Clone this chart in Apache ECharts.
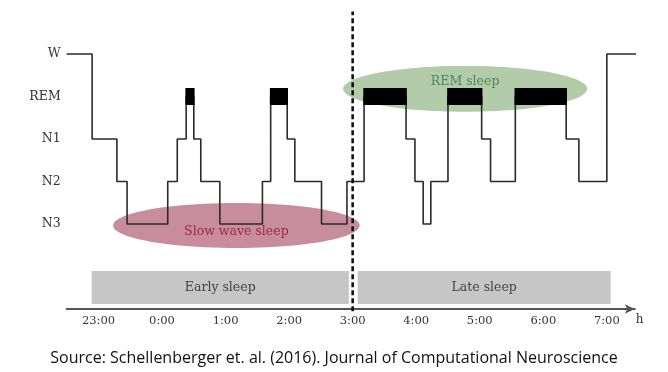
<!DOCTYPE html>
<html>
<head>
<meta charset="utf-8">
<script src="https://cdn.jsdelivr.net/npm/echarts@6/dist/echarts.min.js"></script>
<style>html,body{margin:0;padding:0;background:#fff}#c{width:668px;height:372px}</style>
</head>
<body>
<div id="c"></div>
<script>
// ---- data ----
const stageNames = ['N3', 'N2', 'N1', 'REM', 'W'];
const tickLabels = ['23:00', '0:00', '1:00', '2:00', '3:00', '4:00', '5:00', '6:00', '7:00'];
// hours after 23:00 at which the stage changes, and the new stage
const hypTimes = [-0.5, -0.10, 0.29, 0.45, 1.09, 1.24, 1.38, 1.50, 1.61, 1.91, 2.58, 2.71, 2.97, 3.09, 3.51, 3.91, 4.18, 4.84, 4.98, 5.11, 5.23, 5.50, 6.03, 6.17, 6.56, 7.36, 7.56, 8.00, 8.47];
const hypStages = ['W', 'N1', 'N2', 'N3', 'N2', 'N1', 'REM', 'N1', 'N2', 'N3', 'N2', 'REM', 'N1', 'N2', 'N3', 'N2', 'REM', 'N1', 'N2', 'N3', 'N2', 'REM', 'N1', 'N2', 'REM', 'N1', 'N2', 'W', 'W'];
const remStart = [1.38, 2.71, 4.18, 5.50, 6.56];
const remEnd = [1.50, 2.97, 4.84, 6.03, 7.36];
const periodNames = ['Early sleep', 'Late sleep'];
const periodStart = [-0.107, 4.08];
const periodEnd = [3.94, 8.06];
const splitTime = [4.0];
const phaseNames = ['Slow wave sleep', 'REM sleep'];
const phaseStart = [0.23, 3.85];
const phaseEnd = [4.11, 7.69];
const phaseCenterStage = [-0.035, 3.18];
const phaseHalfStage = [0.53, 0.54];
const phaseLabelStage = [-0.19, 3.34];
const sourceText = 'Source: Schellenberger et. al. (2016). Journal of Computational Neuroscience';

// ---- styles ----
const serif = '"DejaVu Serif", "Liberation Serif", serif';
const phaseFill = ['#c78d9c', '#b2cba8'];
const phaseText = ['#a3283f', '#4b8a5a'];

const chart = echarts.init(document.getElementById('c'), null, { renderer: 'canvas' });

const hypData = hypTimes.map((t, i) => [t, stageNames.indexOf(hypStages[i])]);

const option = {
  animation: false,
  backgroundColor: '#fff',
  title: {
    text: sourceText,
    left: 'center',
    top: 345,
    textStyle: { fontFamily: '"Open Sans", Lato, sans-serif', fontSize: 16, fontWeight: 'normal', color: '#111' }
  },
  grid: { left: 66.7, right: 33.2, top: 41.25, bottom: 63 },
  xAxis: {
    type: 'value',
    min: -0.5,
    max: 8.44,
    interval: 0.5,
    splitLine: { show: false },
    axisTick: { show: false },
    axisLine: {
      show: true,
      onZero: false,
      symbol: ['none', 'arrow'],
      symbolSize: [7, 10],
      lineStyle: { color: '#555', width: 2 }
    },
    axisLabel: {
      margin: 6,
      color: '#333',
      fontFamily: serif,
      fontSize: 11.5,
      showMinLabel: true,
      showMaxLabel: true,
      formatter: v => {
        const r = Math.round(v * 1000) / 1000;
        return Number.isInteger(r) && tickLabels[r] !== undefined ? tickLabels[r] : '';
      }
    },
    name: 'h',
    nameLocation: 'end',
    nameGap: 1,
    nameTextStyle: { color: '#333', fontFamily: serif, fontSize: 12, verticalAlign: 'top', padding: [5, 0, 0, 0] }
  },
  yAxis: {
    type: 'value',
    min: -2,
    max: 4.3,
    interval: 1,
    splitLine: { show: false },
    axisTick: { show: false },
    axisLine: { show: false },
    axisLabel: {
      margin: 6,
      color: '#333',
      fontFamily: serif,
      fontSize: 12.5,
      formatter: v => {
        const r = Math.round(v * 1000) / 1000;
        return Number.isInteger(r) && stageNames[r] !== undefined ? stageNames[r] : '';
      }
    }
  },
  series: [
    {
      // phase ellipses
      type: 'custom',
      z: 1,
      clip: false,
      data: phaseNames.map((n, i) => [phaseStart[i], phaseEnd[i], phaseCenterStage[i], phaseHalfStage[i], phaseLabelStage[i]]),
      encode: { x: [0, 1], y: 2 },
      renderItem: (params, api) => {
        const s = api.value(0), e = api.value(1), c = api.value(2), h = api.value(3), ls = api.value(4);
        const cx = (s + e) / 2, rx = (e - s) / 2;
        const pts = [];
        for (let k = 0; k < 96; k++) {
          const a = (k / 96) * Math.PI * 2;
          pts.push(api.coord([cx + rx * Math.cos(a), c + h * Math.sin(a)]));
        }
        const lp = api.coord([cx, ls]);
        const i = params.dataIndex;
        return {
          type: 'group',
          children: [
            { type: 'polygon', shape: { points: pts, smooth: 0 }, style: { fill: phaseFill[i] } },
            { type: 'text', x: lp[0], y: lp[1], style: { text: phaseNames[i], fill: phaseText[i], font: '12.5px ' + serif, align: 'center', verticalAlign: 'middle' } }
          ]
        };
      }
    },
    {
      // early / late sleep bars
      type: 'custom',
      z: 1,
      clip: false,
      data: periodNames.map((n, i) => [periodStart[i], periodEnd[i]]),
      encode: { x: [0, 1] },
      renderItem: (params, api) => {
        const p0 = api.coord([api.value(0), -1.106]);
        const p1 = api.coord([api.value(1), -1.88]);
        const i = params.dataIndex;
        return {
          type: 'group',
          children: [
            { type: 'rect', shape: { x: p0[0], y: p0[1], width: p1[0] - p0[0], height: p1[1] - p0[1] }, style: { fill: '#c6c6c6' } },
            { type: 'text', x: (p0[0] + p1[0]) / 2, y: (p0[1] + p1[1]) / 2, style: { text: periodNames[i], fill: '#444', font: '12.5px ' + serif, align: 'center', verticalAlign: 'middle' } }
          ]
        };
      }
    },
    {
      // hypnogram
      type: 'line',
      z: 3,
      clip: false,
      step: 'end',
      symbol: 'none',
      data: hypData,
      lineStyle: { color: '#2a2a2a', width: 1.6 }
    },
    {
      // REM bars
      type: 'custom',
      z: 4,
      clip: false,
      data: remStart.map((s, i) => [s, remEnd[i]]),
      encode: { x: [0, 1] },
      renderItem: (params, api) => {
        const p0 = api.coord([api.value(0), 3]);
        const p1 = api.coord([api.value(1), 3]);
        return { type: 'rect', shape: { x: p0[0] - 0.8, y: p0[1] - 8.5, width: p1[0] - p0[0] + 1.6, height: 17 }, style: { fill: '#000' } };
      }
    },
    {
      // early/late split
      type: 'custom',
      z: 5,
      clip: false,
      data: splitTime.map(t => [t]),
      encode: { x: 0 },
      renderItem: (params, api) => {
        const a = api.coord([api.value(0), -2.05]);
        const b = api.coord([api.value(0), 5.0]);
        return { type: 'line', shape: { x1: a[0], y1: a[1], x2: b[0], y2: b[1] }, style: { stroke: '#111', lineWidth: 2.6, lineDash: [5, 3] } };
      }
    }
  ]
};
chart.setOption(option);
</script>
</body>
</html>
